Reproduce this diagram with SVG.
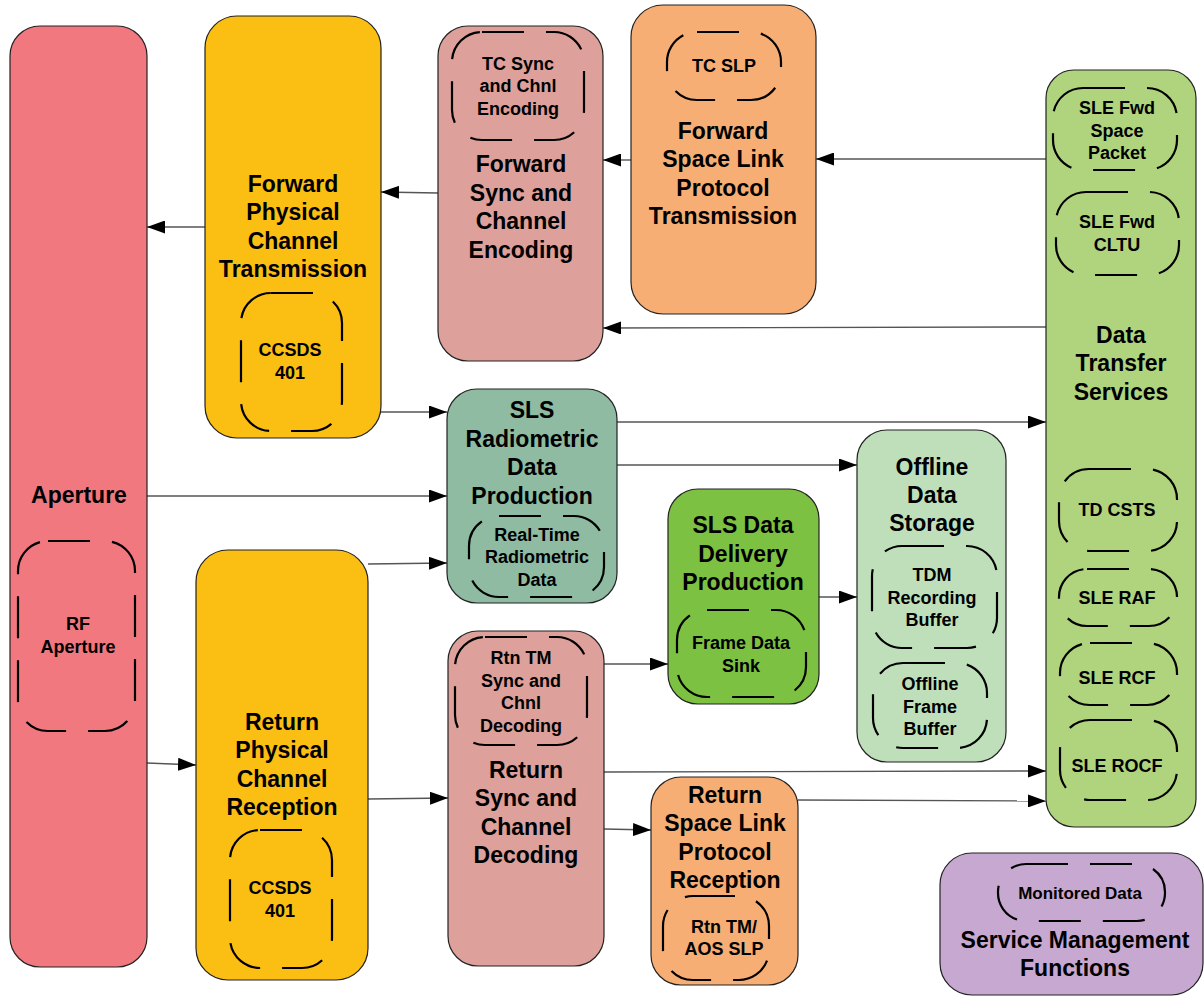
<svg xmlns="http://www.w3.org/2000/svg" width="1204" height="1000" viewBox="0 0 1204 1000">
<defs>
<style>
.n{stroke:#222;stroke-width:1.2}
.d{fill:none;stroke:#000;stroke-width:2.2;stroke-dasharray:42 22}
.t{font-family:"Liberation Sans",Arial,sans-serif;font-weight:bold;font-size:23px;text-anchor:middle;fill:#000}
.s{font-family:"Liberation Sans",Arial,sans-serif;font-weight:bold;font-size:18px;text-anchor:middle;fill:#000}
.c{fill:none;stroke:#555;stroke-width:1.4;marker-end:url(#ah)}
</style>
<marker id="ah" markerUnits="userSpaceOnUse" markerWidth="18" markerHeight="13" refX="18" refY="6.5" orient="auto">
<path d="M0,0 L18,6.5 L0,13 Z" fill="#000"/>
</marker>
</defs>
<rect width="1204" height="1000" fill="#fff"/>

<g id="connectors">
<path class="c" d="M205,227 L147,227"/>
<path class="c" d="M438,193 L381,192"/>
<path class="c" d="M631,160 L603,160"/>
<path class="c" d="M1046,159 L816,159"/>
<path class="c" d="M1046,327 L603,328"/>
<path class="c" d="M381,412 L447,412"/>
<path class="c" d="M617,422 L1046,422"/>
<path class="c" d="M617,465 L857,465"/>
<path class="c" d="M147,496 L447,496"/>
<path class="c" d="M368,564 L447,563"/>
<path class="c" d="M819,597 L857,597"/>
<path class="c" d="M604,664 L668,664"/>
<path class="c" d="M147,763 L196,765"/>
<path class="c" d="M368,799 L448,798"/>
<path class="c" d="M604,772 L1046,771"/>
<path class="c" d="M604,829 L651,830"/>
<path class="c" d="M798,800 L1046,801"/>
</g>

<g id="aperture">
<rect class="n" x="10" y="26" width="137" height="941" rx="30" fill="#F27880"/>
<text class="t" x="79" y="503">Aperture</text>
<rect class="d" x="18" y="541" width="117" height="190" rx="30"/>
<text class="s" x="78" y="630">RF</text>
<text class="s" x="78" y="653">Aperture</text>
</g>

<g id="fwd-physical">
<rect class="n" x="205" y="16" width="176" height="422" rx="32" fill="#FBBE12"/>
<text class="t" x="293" y="192">Forward</text>
<text class="t" x="293" y="220">Physical</text>
<text class="t" x="293" y="249">Channel</text>
<text class="t" x="293" y="277">Transmission</text>
<rect class="d" x="241" y="293" width="101" height="138" rx="30"/>
<text class="s" x="290" y="356">CCSDS</text>
<text class="s" x="290" y="379">401</text>
</g>

<g id="fwd-sync">
<rect class="n" x="438" y="26" width="165" height="335" rx="30" fill="#DDA09B"/>
<rect class="d" x="452" y="32" width="132" height="108" rx="30"/>
<text class="s" x="518" y="70">TC Sync</text>
<text class="s" x="518" y="92">and Chnl</text>
<text class="s" x="518" y="115">Encoding</text>
<text class="t" x="521" y="172">Forward</text>
<text class="t" x="521" y="201">Sync and</text>
<text class="t" x="521" y="229">Channel</text>
<text class="t" x="521" y="258">Encoding</text>
</g>

<g id="fwd-slp">
<rect class="n" x="631" y="5" width="185" height="309" rx="32" fill="#F7AE75"/>
<rect class="d" x="667" y="32" width="114" height="68" rx="30"/>
<text class="s" x="724" y="72">TC SLP</text>
<text class="t" x="723" y="139">Forward</text>
<text class="t" x="723" y="167">Space Link</text>
<text class="t" x="723" y="196">Protocol</text>
<text class="t" x="723" y="224">Transmission</text>
</g>

<g id="data-transfer-services">
<rect class="n" x="1046" y="70" width="150" height="757" rx="28" fill="#B0D47E"/>
<rect class="d" x="1053" y="88" width="124" height="82" rx="30"/>
<text class="s" x="1117" y="114">SLE Fwd</text>
<text class="s" x="1117" y="137">Space</text>
<text class="s" x="1117" y="159">Packet</text>
<rect class="d" x="1056" y="192" width="123" height="83" rx="30"/>
<text class="s" x="1117" y="228">SLE Fwd</text>
<text class="s" x="1117" y="251">CLTU</text>
<text class="t" x="1121" y="343">Data</text>
<text class="t" x="1121" y="371">Transfer</text>
<text class="t" x="1121" y="400">Services</text>
<rect class="d" x="1059" y="469" width="118" height="82" rx="30"/>
<text class="s" x="1117" y="516">TD CSTS</text>
<rect class="d" x="1059" y="569" width="118" height="57" rx="28"/>
<text class="s" x="1117" y="604">SLE RAF</text>
<rect class="d" x="1060" y="643" width="117" height="62" rx="30"/>
<text class="s" x="1117" y="684">SLE RCF</text>
<rect class="d" x="1060" y="720" width="117" height="80" rx="30"/>
<text class="s" x="1117" y="772">SLE ROCF</text>
</g>

<g id="sls-radiometric">
<rect class="n" x="447" y="389" width="170" height="214" rx="30" fill="#8EBBA2"/>
<text class="t" x="532" y="418">SLS</text>
<text class="t" x="532" y="447">Radiometric</text>
<text class="t" x="532" y="475">Data</text>
<text class="t" x="532" y="504">Production</text>
<rect class="d" x="469" y="516" width="135" height="81" rx="30"/>
<text class="s" x="537" y="541">Real-Time</text>
<text class="s" x="537" y="563">Radiometric</text>
<text class="s" x="537" y="586">Data</text>
</g>

<g id="sls-delivery">
<rect class="n" x="668" y="489" width="151" height="215" rx="30" fill="#7DC142"/>
<text class="t" x="743" y="533">SLS Data</text>
<text class="t" x="743" y="562">Delivery</text>
<text class="t" x="743" y="590">Production</text>
<rect class="d" x="677" y="610" width="129" height="87" rx="30"/>
<text class="s" x="741" y="649">Frame Data</text>
<text class="s" x="741" y="672">Sink</text>
</g>

<g id="offline-storage">
<rect class="n" x="857" y="430" width="149" height="332" rx="30" fill="#BFDFBB"/>
<text class="t" x="932" y="475">Offline</text>
<text class="t" x="932" y="503">Data</text>
<text class="t" x="932" y="531">Storage</text>
<rect class="d" x="872" y="546" width="125" height="102" rx="30"/>
<text class="s" x="932" y="581">TDM</text>
<text class="s" x="932" y="604">Recording</text>
<text class="s" x="932" y="626">Buffer</text>
<rect class="d" x="873" y="663" width="114" height="85" rx="30"/>
<text class="s" x="930" y="690">Offline</text>
<text class="s" x="930" y="713">Frame</text>
<text class="s" x="930" y="735">Buffer</text>
</g>

<g id="rtn-physical">
<rect class="n" x="196" y="550" width="172" height="430" rx="32" fill="#FBBE12"/>
<text class="t" x="282" y="730">Return</text>
<text class="t" x="282" y="758">Physical</text>
<text class="t" x="282" y="787">Channel</text>
<text class="t" x="282" y="815">Reception</text>
<rect class="d" x="230" y="830" width="102" height="138" rx="30"/>
<text class="s" x="280" y="894">CCSDS</text>
<text class="s" x="280" y="917">401</text>
</g>

<g id="rtn-sync">
<rect class="n" x="448" y="631" width="156" height="335" rx="30" fill="#DDA09B"/>
<rect class="d" x="455" y="637" width="132" height="108" rx="30"/>
<text class="s" x="521" y="664">Rtn TM</text>
<text class="s" x="521" y="687">Sync and</text>
<text class="s" x="521" y="709">Chnl</text>
<text class="s" x="521" y="732">Decoding</text>
<text class="t" x="526" y="778">Return</text>
<text class="t" x="526" y="806">Sync and</text>
<text class="t" x="526" y="835">Channel</text>
<text class="t" x="526" y="863">Decoding</text>
</g>

<g id="rtn-slp">
<rect class="n" x="651" y="777" width="147" height="208" rx="30" fill="#F7AE75"/>
<text class="t" x="725" y="803">Return</text>
<text class="t" x="725" y="831">Space Link</text>
<text class="t" x="725" y="860">Protocol</text>
<text class="t" x="725" y="888">Reception</text>
<rect class="d" x="663" y="896" width="106" height="84" rx="30"/>
<text class="s" x="724" y="933">Rtn TM/</text>
<text class="s" x="724" y="955">AOS SLP</text>
</g>

<g id="service-management">
<rect class="n" x="940" y="853" width="263" height="142" rx="32" fill="#C7A8D1"/>
<rect class="d" x="998" y="864" width="167" height="57" rx="28"/>
<text class="s" x="1080" y="899" style="font-size:17px">Monitored Data</text>
<text class="t" x="1075" y="948">Service Management</text>
<text class="t" x="1075" y="976">Functions</text>
</g>
</svg>
